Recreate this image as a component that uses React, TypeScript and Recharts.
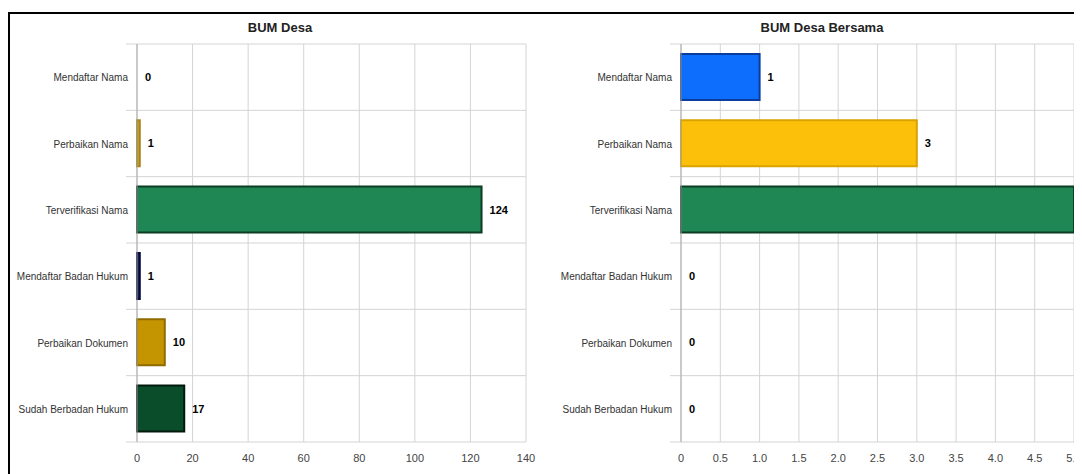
import { Bar, BarChart, CartesianGrid, Cell, LabelList, XAxis, YAxis } from 'recharts';

const categories = [
    'Mendaftar Nama',
    'Perbaikan Nama',
    'Terverifikasi Nama',
    'Mendaftar Badan Hukum',
    'Perbaikan Dokumen',
    'Sudah Berbadan Hukum',
];

const desaValues = [0, 1, 124, 1, 10, 17];
const desaBersamaValues = [1, 3, 5, 0, 0, 0];

const desaTicks = [0, 20, 40, 60, 80, 100, 120, 140];
const bersamaTicks = [0, 0.5, 1, 1.5, 2, 2.5, 3, 3.5, 4, 4.5, 5];

const desaFills = ['#0d6efd', '#c9a227', '#1e8754', '#1a1f5c', '#c49500', '#0a4d2a'];
const desaStrokes = ['#0a3d9e', '#a8841a', '#0d3d22', '#05083a', '#8f6b00', '#021a0c'];
const bersamaFills = ['#0d6efd', '#fcc00b', '#1e8754', '#1a1f5c', '#c49500', '#0a4d2a'];
const bersamaStrokes = ['#0a3d9e', '#d9a300', '#0d3d22', '#05083a', '#8f6b00', '#021a0c'];

const FONT = "Arial, 'Liberation Sans', sans-serif";
const AXIS_W = 120;

type PanelProps = {
    title: string;
    values: number[];
    ticks: number[];
    fills: string[];
    strokes: string[];
    width: number;
    marginLeft: number;
    marginRight: number;
    left: number;
    fmt: (v: number) => string;
};

const CategoryTick = (props: any) => {
    const { x, y, payload } = props;
    return (
        <text x={x} y={y} dy={4} textAnchor="end" fontSize={10} fill="#333" fontFamily={FONT}>
            {payload.value}
        </text>
    );
};

const ValueLabel = (props: any) => {
    const { x, y, width, height, value } = props;
    const w = Number(value) === 0 ? 0 : Number(width || 0);
    return (
        <text
            x={Number(x) + w + 8}
            y={Number(y) + Number(height) / 2}
            dy={4}
            fontSize={11}
            fontWeight="bold"
            fill="#000"
            fontFamily={FONT}
        >
            {value}
        </text>
    );
};

function Panel({ title, values, ticks, fills, strokes, width, marginLeft, marginRight, left, fmt }: PanelProps) {
    const data = categories.map((name, i) => ({ name, value: values[i] }));
    const max = ticks[ticks.length - 1];
    const plotLeft = marginLeft + AXIS_W;
    const plotWidth = width - plotLeft - marginRight;

    return (
        <div style={{ position: 'absolute', left, top: 0, width, height: 460 }}>
            <div
                style={{
                    position: 'absolute',
                    top: 6,
                    left: 0,
                    width,
                    textAlign: 'center',
                    fontFamily: FONT,
                    fontWeight: 'bold',
                    fontSize: 13,
                    lineHeight: '16px',
                    color: '#222',
                }}
            >
                {title}
            </div>
            <BarChart
                width={width}
                height={460}
                data={data}
                layout="vertical"
                barCategoryGap="15%"
                margin={{ top: 30, right: marginRight, bottom: 12, left: marginLeft }}
            >
                <CartesianGrid stroke="#d4d4d4" horizontal={false} />
                <CartesianGrid
                    stroke="#d4d4d4"
                    vertical={false}
                    x={plotLeft - 11}
                    width={plotWidth + 11}
                    horizontalCoordinatesGenerator={({ offset }: any) =>
                        categories
                            .map((_, i) => offset.top + (i * offset.height) / categories.length)
                            .concat(offset.top + offset.height)
                    }
                />
                <XAxis
                    type="number"
                    domain={[0, max]}
                    ticks={ticks}
                    tickFormatter={fmt}
                    axisLine={false}
                    tickLine={false}
                    tickMargin={6}
                    height={20}
                    interval={0}
                    tick={{ fontSize: 11, fill: '#444', fontFamily: FONT }}
                />
                <YAxis
                    type="category"
                    dataKey="name"
                    width={AXIS_W}
                    axisLine={{ stroke: '#aaa' }}
                    tickLine={false}
                    tickSize={6}
                    tickMargin={3}
                    interval={0}
                    tick={<CategoryTick />}
                />
                <Bar dataKey="value" isAnimationActive={false} strokeWidth={2} minPointSize={0.01}>
                    {data.map((d, i) => (
                        <Cell
                            key={d.name}
                            fill={d.value > 0 ? fills[i] : 'transparent'}
                            stroke={d.value > 0 ? strokes[i] : 'none'}
                        />
                    ))}
                    <LabelList dataKey="value" content={<ValueLabel />} />
                </Bar>
            </BarChart>
        </div>
    );
}

export default function App() {
    return (
        <div style={{ paddingTop: 4 }}>
            <div
                style={{
                    position: 'relative',
                    width: 1072,
                    height: 462,
                    borderTop: '2px solid #000',
                    borderLeft: '2px solid #000',
                    overflow: 'hidden',
                    background: '#fff',
                }}
            >
                <Panel
                    title="BUM Desa"
                    values={desaValues}
                    ticks={desaTicks}
                    fills={desaFills}
                    strokes={desaStrokes}
                    width={540}
                    marginLeft={7}
                    marginRight={24}
                    left={0}
                    fmt={(v) => `${v}`}
                />
                <Panel
                    title="BUM Desa Bersama"
                    values={desaBersamaValues}
                    ticks={bersamaTicks}
                    fills={bersamaFills}
                    strokes={bersamaStrokes}
                    width={544}
                    marginLeft={11}
                    marginRight={20}
                    left={540}
                    fmt={(v) => (v === 0 ? '0' : v.toFixed(1))}
                />
            </div>
        </div>
    );
}
